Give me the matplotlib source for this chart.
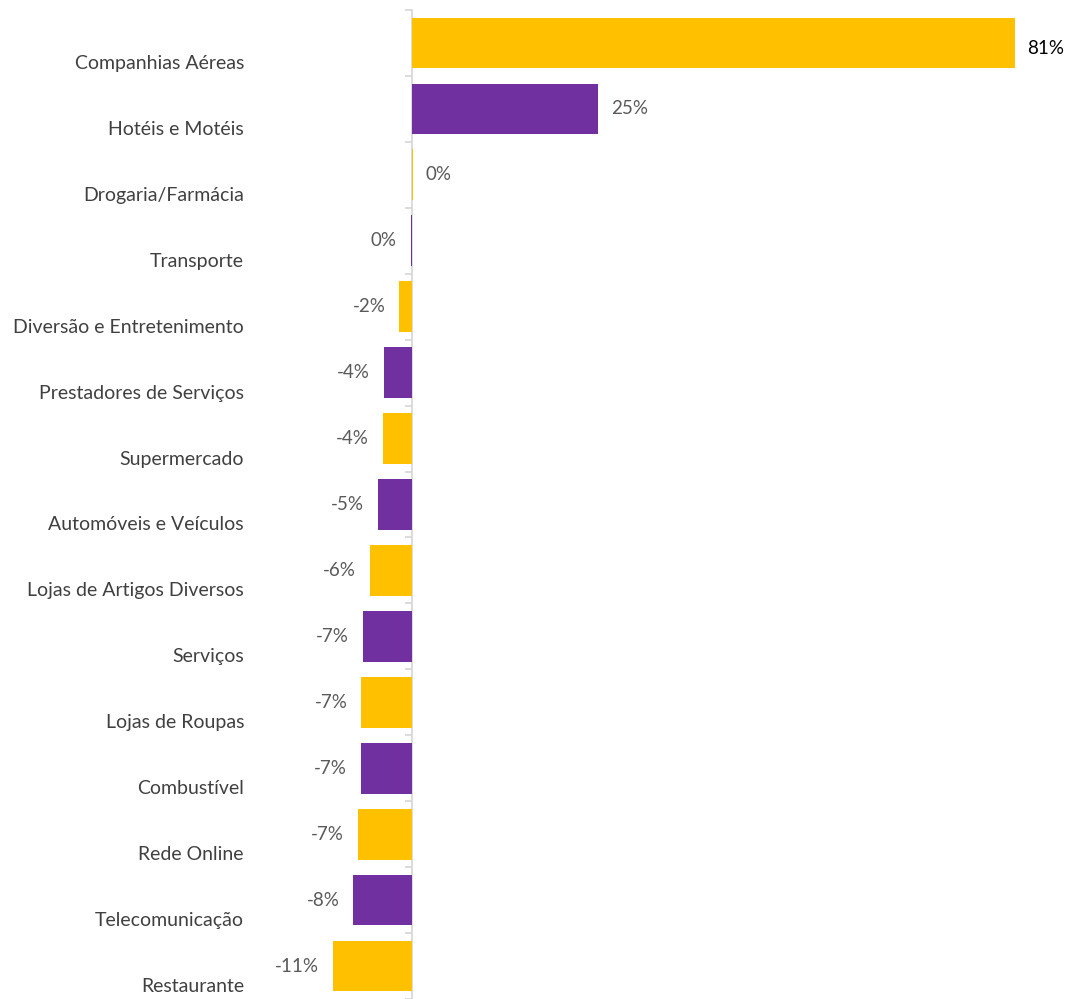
import numpy as np
import matplotlib.pyplot as plt
from matplotlib.transforms import blended_transform_factory

# ======= data =======
categories = [
    "Companhias Aéreas", "Hotéis e Motéis", "Drogaria/Farmácia", "Transporte",
    "Diversão e Entretenimento", "Prestadores de Serviços", "Supermercado",
    "Automóveis e Veículos", "Lojas de Artigos Diversos", "Serviços",
    "Lojas de Roupas", "Combustível", "Rede Online", "Telecomunicação",
    "Restaurante",
]
values = [81, 25, 0.2, -0.2, -1.7, -3.8, -3.9, -4.6, -5.7, -6.6,
          -6.8, -6.9, -7.3, -7.9, -10.6]
bar_colors = ["#FFC000", "#7030A0"]
# ====================

plt.rcParams['font.family'] = ['Lato', 'DejaVu Sans']

fig = plt.figure(figsize=(10.66, 9.99), dpi=100)
ax = fig.add_axes([0.0, 0.0, 1.0, 0.99])

n = len(categories)
y = np.arange(n)
colors = [bar_colors[i % 2] for i in range(n)]
ax.barh(y, values, height=0.77, color=colors)

# x so that zero sits at ~412px and 81% at ~1015px
px_per = 603 / 81.0
x0 = -412 / px_per
x1 = x0 + 1066 / px_per
ax.set_xlim(x0, x1)
ax.set_ylim(n - 0.5, -0.5)

for s in ["top", "right", "bottom"]:
    ax.spines[s].set_visible(False)
ax.spines["left"].set_position(("data", 0))
ax.spines["left"].set_color("#D9D9D9")
ax.spines["left"].set_linewidth(1.3)
ax.spines["left"].set_zorder(0.5)
ax.set_xticks([])
ax.set_yticks(np.arange(n + 1) - 0.5)
ax.set_yticklabels([])
ax.tick_params(axis="y", direction="out", length=5, color="#D9D9D9", width=1.3)

# category labels (sit a bit below each bar, like the source)
trans = blended_transform_factory(fig.transFigure, ax.transData)
for i, cat in enumerate(categories):
    ax.text(244 / 1066, i + 0.31, cat, transform=trans, ha="right",
            va="center", fontsize=14, color="#404040")

# value labels
for i, v in enumerate(values):
    lab = f"{int(round(v))}%"
    col = "#000000" if i == 0 else "#595959"
    dy = -4 if i == 0 else 0
    if v >= 0:
        ax.annotate(lab, (v, i), xytext=(9, dy), textcoords="offset points",
                    ha="left", va="center", fontsize=13.5, color=col)
    else:
        ax.annotate(lab, (v, i), xytext=(-10, dy), textcoords="offset points",
                    ha="right", va="center", fontsize=13.5, color=col)

fig.savefig("out.png", dpi=100)
